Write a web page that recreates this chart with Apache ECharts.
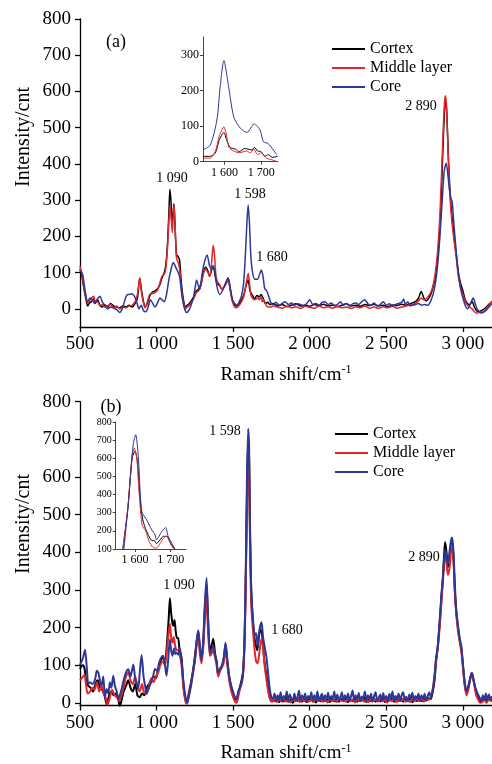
<!DOCTYPE html>
<html lang="en">
<head>
    <meta charset="UTF-8">
    <title>Raman spectra</title>
    <style>
        html, body { margin: 0; padding: 0; background: #fff; }
    </style>
    <script src="https://cdn.jsdelivr.net/npm/echarts@6/dist/echarts.min.js"></script>
</head>
<body>
<div id="main" style="width:492px;height:764px"></div>
<script>
    var names = ['Cortex', 'Middle layer', 'Core'];
    var colors = ['#000000', '#e3262b', '#2c3896'];
    var yTicks = [0, 100, 200, 300, 400, 500, 600, 700, 800];
    var insetTicksX = [1600, 1700];
    var insetTicksYa = [0, 100, 200, 300];
    var insetTicksYb = [100, 200, 300, 400, 500, 600, 700, 800];

    // (a) [Raman shift, intensity]
    var cortexA = [[500,110],[510,95],[520,70],[535,35],[550,8],[560,15],[575,20],[590,28],[600,15],[615,25],[630,10],[645,5],[660,12],[680,5],[700,15],[720,8],[740,5],[760,3],[780,8],[800,5],[820,10],[840,5],[860,15],[875,30],[890,85],[900,55],[910,30],[925,5],[940,15],[955,35],[970,45],[990,50],[1005,55],[1020,65],[1035,85],[1050,100],[1060,120],[1070,170],[1080,260],[1087,330],[1095,290],[1100,230],[1107,260],[1113,290],[1120,230],[1130,150],[1140,145],[1150,135],[1160,80],[1170,40],[1180,15],[1190,5],[1200,10],[1215,15],[1230,25],[1245,35],[1260,50],[1275,55],[1290,70],[1305,100],[1320,115],[1335,105],[1345,90],[1355,100],[1365,115],[1375,110],[1385,85],[1395,70],[1410,65],[1425,55],[1440,60],[1455,75],[1467,85],[1480,60],[1495,25],[1510,10],[1525,8],[1540,15],[1555,25],[1570,40],[1585,65],[1598,80],[1610,50],[1625,38],[1640,28],[1655,37],[1670,33],[1682,40],[1695,30],[1710,15],[1725,18],[1740,12],[1760,15],[1790,8],[1820,12],[1850,6],[1880,10],[1910,14],[1940,8],[1970,11],[2000,7],[2030,12],[2060,9],[2090,13],[2120,8],[2150,11],[2180,6],[2210,10],[2240,14],[2270,8],[2300,10],[2330,7],[2360,12],[2390,9],[2420,13],[2450,8],[2480,10],[2510,6],[2540,11],[2570,9],[2600,13],[2630,10],[2660,15],[2690,20],[2710,30],[2728,48],[2745,30],[2760,22],[2775,28],[2790,40],[2805,60],[2820,90],[2835,140],[2850,230],[2862,350],[2872,470],[2882,560],[2888,575],[2895,540],[2905,420],[2915,330],[2925,270],[2935,230],[2945,190],[2957,150],[2970,100],[2985,70],[3000,50],[3015,25],[3030,15],[3045,12],[3060,20],[3075,5],[3090,-5],[3105,-8],[3120,-5],[3140,0],[3160,8],[3175,15],[3190,20]];
    var middleA = [[500,118],[510,100],[520,75],[535,40],[550,15],[560,20],[575,30],[590,35],[600,20],[615,20],[630,8],[645,12],[660,5],[680,8],[700,12],[720,3],[740,8],[760,0],[780,5],[800,3],[820,8],[840,10],[860,20],[875,40],[890,85],[900,50],[910,25],[925,3],[940,20],[955,40],[970,42],[990,45],[1005,50],[1020,70],[1035,90],[1050,95],[1060,110],[1070,160],[1080,240],[1088,285],[1097,240],[1103,210],[1110,270],[1115,285],[1122,220],[1130,140],[1140,130],[1150,110],[1160,65],[1170,30],[1180,10],[1190,0],[1200,5],[1215,10],[1230,20],[1245,30],[1260,45],[1275,50],[1290,65],[1305,95],[1320,110],[1335,100],[1348,90],[1358,120],[1365,160],[1370,175],[1378,150],[1388,90],[1398,75],[1410,68],[1425,55],[1440,60],[1455,70],[1467,80],[1480,55],[1495,20],[1510,5],[1522,3],[1540,10],[1555,20],[1570,35],[1585,70],[1598,98],[1607,70],[1615,40],[1625,30],[1640,25],[1660,30],[1670,25],[1680,35],[1690,20],[1700,25],[1715,10],[1730,5],[1745,5],[1760,8],[1790,5],[1820,2],[1850,8],[1880,3],[1910,6],[1940,1],[1970,7],[2000,4],[2030,2],[2060,8],[2090,3],[2120,6],[2150,2],[2180,7],[2210,3],[2240,5],[2270,1],[2300,6],[2330,3],[2360,8],[2390,2],[2420,5],[2450,1],[2480,6],[2510,3],[2540,7],[2570,2],[2600,5],[2630,8],[2660,12],[2690,15],[2710,22],[2728,30],[2745,25],[2760,28],[2775,35],[2790,45],[2805,65],[2820,100],[2835,160],[2850,260],[2862,390],[2872,500],[2880,570],[2886,588],[2893,560],[2902,450],[2912,340],[2922,270],[2932,225],[2945,180],[2957,140],[2970,90],[2985,60],[3000,40],[3015,20],[3030,10],[3045,5],[3060,0],[3075,-8],[3090,-12],[3105,-10],[3120,-12],[3140,-5],[3160,5],[3175,12],[3190,22]];
    var coreA = [[500,105],[510,102],[520,90],[535,45],[550,20],[565,30],[580,25],[595,15],[610,25],[630,35],[645,20],[660,10],[680,0],[700,5],[720,2],[740,-2],[760,-10],[775,0],[790,20],[805,38],[820,40],[840,42],[855,35],[870,20],[885,0],[900,10],[915,-5],[930,-8],[945,5],[960,25],[975,15],[990,5],[1005,15],[1022,30],[1035,25],[1050,20],[1065,40],[1080,80],[1095,110],[1109,128],[1120,120],[1130,110],[1142,100],[1152,85],[1163,45],[1174,15],[1185,-3],[1197,-10],[1210,-5],[1225,10],[1240,30],[1252,60],[1261,80],[1272,65],[1283,55],[1295,90],[1310,125],[1330,149],[1345,120],[1358,110],[1370,120],[1382,100],[1395,60],[1413,40],[1430,50],[1450,70],[1467,85],[1480,55],[1495,25],[1510,15],[1525,10],[1540,20],[1554,35],[1568,70],[1580,150],[1590,240],[1598,287],[1606,240],[1615,150],[1625,105],[1641,82],[1660,82],[1672,95],[1684,107],[1695,90],[1706,56],[1719,50],[1732,35],[1745,18],[1760,12],[1780,18],[1800,10],[1820,15],[1840,20],[1860,12],[1880,16],[1900,10],[1920,14],[1940,12],[1960,8],[1980,15],[2000,25],[2020,12],[2040,15],[2060,10],[2080,18],[2100,20],[2120,12],[2140,16],[2160,10],[2180,12],[2200,20],[2220,10],[2240,15],[2260,8],[2280,14],[2300,16],[2320,12],[2340,20],[2360,25],[2380,14],[2400,10],[2420,16],[2440,8],[2460,12],[2480,20],[2500,10],[2520,14],[2540,8],[2560,12],[2580,15],[2600,18],[2613,27],[2625,12],[2640,20],[2655,8],[2670,10],[2690,12],[2710,15],[2730,10],[2750,12],[2770,10],[2790,22],[2805,40],[2820,70],[2835,120],[2850,200],[2865,300],[2878,380],[2891,402],[2902,370],[2912,330],[2922,305],[2930,296],[2940,240],[2950,190],[2960,140],[2972,95],[2985,55],[3000,30],[3015,10],[3030,0],[3045,10],[3060,25],[3068,30],[3080,15],[3095,-2],[3110,-8],[3130,-10],[3150,-5],[3170,5],[3190,15]];

    // inset (a)
    var cortexAi = [[1541,15],[1560,15],[1575,25],[1585,60],[1598,82],[1606,60],[1615,40],[1630,35],[1640,28],[1655,37],[1665,35],[1675,33],[1682,40],[1690,30],[1700,28],[1710,15],[1720,20],[1730,12],[1745,15]];
    var middleAi = [[1541,10],[1560,10],[1575,30],[1585,70],[1598,98],[1605,75],[1612,40],[1625,30],[1640,25],[1660,30],[1670,25],[1680,35],[1690,20],[1700,25],[1715,10],[1730,5],[1745,0]];
    var coreAi = [[1541,33],[1561,47],[1579,117],[1588,211],[1598,284],[1611,211],[1625,126],[1643,94],[1661,82],[1681,106],[1697,89],[1706,56],[1719,51],[1743,19]];

    // (b)
    var cortexB = [[500,90],[510,98],[520,100],[530,90],[540,60],[555,45],[570,40],[585,30],[600,50],[615,60],[630,40],[645,35],[660,20],[675,-5],[690,20],[705,30],[720,20],[735,25],[750,10],[760,-10],[770,5],[785,30],[800,45],[815,60],[830,40],[845,30],[860,50],[875,20],[890,15],[905,25],[920,20],[935,40],[950,50],[965,60],[980,70],[995,65],[1010,90],[1025,110],[1040,120],[1055,110],[1070,170],[1080,230],[1087,278],[1095,240],[1104,210],[1110,205],[1117,220],[1125,190],[1133,172],[1141,172],[1150,140],[1163,120],[1175,50],[1188,10],[1198,0],[1210,25],[1225,55],[1239,88],[1255,140],[1272,190],[1283,140],[1293,114],[1305,160],[1315,250],[1326,315],[1335,230],[1348,140],[1358,150],[1370,170],[1382,130],[1392,110],[1402,75],[1415,90],[1428,100],[1440,120],[1450,155],[1462,110],[1474,70],[1488,40],[1500,25],[1512,10],[1522,8],[1533,25],[1543,40],[1555,60],[1565,85],[1575,180],[1583,350],[1590,550],[1598,700],[1604,650],[1610,450],[1618,300],[1628,220],[1640,170],[1650,150],[1658,140],[1668,175],[1678,195],[1688,185],[1697,140],[1707,100],[1718,70],[1730,35],[1742,10],[1755,5],[1770,5],[1785,12],[1800,2],[1815,10],[1830,4],[1845,15],[1860,3],[1875,8],[1890,0],[1905,12],[1920,5],[1935,14],[1950,3],[1965,9],[1980,2],[1995,13],[2010,6],[2025,10],[2040,1],[2055,12],[2070,4],[2085,15],[2100,5],[2115,9],[2130,2],[2145,11],[2160,4],[2175,14],[2190,3],[2205,10],[2220,6],[2235,13],[2250,2],[2265,9],[2280,5],[2295,12],[2310,3],[2325,10],[2340,6],[2355,14],[2370,2],[2385,9],[2400,5],[2415,12],[2430,3],[2445,10],[2460,4],[2475,13],[2490,2],[2505,9],[2520,6],[2535,12],[2550,3],[2565,10],[2580,5],[2595,14],[2610,3],[2625,9],[2640,6],[2655,12],[2670,2],[2685,10],[2700,5],[2715,12],[2730,4],[2745,10],[2760,6],[2775,12],[2790,10],[2803,30],[2815,60],[2825,110],[2836,150],[2850,220],[2860,280],[2869,330],[2877,390],[2884,427],[2893,400],[2902,360],[2912,385],[2922,415],[2930,425],[2938,390],[2947,300],[2957,240],[2968,200],[2980,165],[2990,145],[3000,100],[3012,50],[3024,26],[3035,40],[3045,60],[3055,75],[3063,70],[3075,50],[3087,25],[3100,15],[3112,5],[3125,3],[3140,12],[3155,5],[3170,15],[3185,8],[3190,10]];
    var middleB = [[500,60],[510,65],[520,70],[530,75],[540,45],[550,25],[565,30],[580,40],[595,35],[610,55],[625,30],[640,45],[655,25],[670,10],[680,-5],[695,15],[710,35],[725,20],[740,15],[755,5],[770,20],[785,40],[800,70],[815,80],[830,60],[845,50],[860,70],[875,45],[890,30],[905,50],[920,25],[935,30],[950,45],[965,65],[980,55],[995,70],[1010,80],[1025,100],[1040,110],[1055,100],[1070,150],[1080,190],[1087,210],[1095,175],[1104,160],[1112,175],[1120,155],[1130,140],[1141,140],[1150,130],[1163,100],[1175,40],[1188,5],[1198,-3],[1210,20],[1225,50],[1239,80],[1255,130],[1272,180],[1283,130],[1293,105],[1305,150],[1315,220],[1326,280],[1335,200],[1348,125],[1358,130],[1370,140],[1382,120],[1392,100],[1402,70],[1415,85],[1428,95],[1440,110],[1450,145],[1462,100],[1474,60],[1488,30],[1500,15],[1512,3],[1522,0],[1533,15],[1543,35],[1555,50],[1565,75],[1575,160],[1583,330],[1590,520],[1598,655],[1604,610],[1610,430],[1618,260],[1628,200],[1640,140],[1650,110],[1660,105],[1670,130],[1680,160],[1688,170],[1697,140],[1707,95],[1718,60],[1730,28],[1742,8],[1755,3],[1770,8],[1785,2],[1800,10],[1815,4],[1830,12],[1845,3],[1860,9],[1875,1],[1890,10],[1905,4],[1920,12],[1935,2],[1950,8],[1965,5],[1980,11],[1995,3],[2010,9],[2025,2],[2040,12],[2055,5],[2070,10],[2085,3],[2100,8],[2115,1],[2130,11],[2145,4],[2160,9],[2175,2],[2190,12],[2205,5],[2220,8],[2235,3],[2250,11],[2265,4],[2280,9],[2295,1],[2310,10],[2325,5],[2340,12],[2355,3],[2370,8],[2385,2],[2400,11],[2415,5],[2430,9],[2445,3],[2460,12],[2475,4],[2490,8],[2505,1],[2520,10],[2535,4],[2550,12],[2565,2],[2580,9],[2595,5],[2610,11],[2625,3],[2640,8],[2655,2],[2670,10],[2685,4],[2700,12],[2715,5],[2730,9],[2745,3],[2760,10],[2775,8],[2790,15],[2803,35],[2815,70],[2825,115],[2836,145],[2850,210],[2860,270],[2869,320],[2877,370],[2885,390],[2893,370],[2902,340],[2912,355],[2922,400],[2930,420],[2938,385],[2947,300],[2957,235],[2968,190],[2980,160],[2990,135],[3000,95],[3012,45],[3024,20],[3035,35],[3045,55],[3055,80],[3063,75],[3075,45],[3087,20],[3100,8],[3112,0],[3125,2],[3140,8],[3155,0],[3170,10],[3185,5],[3190,8]];
    var coreB = [[500,100],[510,110],[520,120],[533,141],[545,90],[554,50],[565,55],[580,50],[598,62],[610,85],[620,80],[630,60],[641,45],[652,70],[663,15],[674,37],[685,25],[695,55],[705,40],[717,72],[728,45],[740,30],[750,10],[760,20],[772,37],[785,60],[800,80],[815,89],[830,70],[848,102],[860,65],[870,50],[880,37],[890,80],[902,127],[915,70],[925,45],[935,24],[950,40],[965,55],[978,72],[990,90],[1005,85],[1017,107],[1030,120],[1043,125],[1055,100],[1065,72],[1075,110],[1087,168],[1095,140],[1104,125],[1115,145],[1122,130],[1130,133],[1141,128],[1152,146],[1163,110],[1174,62],[1187,20],[1200,0],[1215,25],[1225,45],[1239,88],[1250,110],[1260,160],[1272,193],[1283,150],[1293,114],[1305,170],[1315,260],[1326,332],[1335,240],[1348,131],[1358,140],[1370,150],[1382,125],[1392,110],[1402,80],[1415,90],[1428,100],[1440,125],[1450,160],[1462,115],[1474,70],[1488,45],[1500,28],[1512,15],[1522,10],[1533,30],[1543,40],[1555,55],[1565,80],[1575,180],[1583,370],[1590,590],[1598,728],[1604,680],[1610,480],[1618,300],[1630,219],[1641,180],[1650,185],[1660,150],[1670,190],[1685,214],[1695,175],[1705,150],[1717,122],[1728,80],[1739,36],[1750,15],[1760,10],[1770,25],[1780,5],[1790,20],[1800,8],[1810,28],[1820,3],[1830,18],[1840,10],[1850,30],[1860,5],[1870,22],[1880,12],[1890,6],[1900,25],[1910,8],[1920,15],[1930,32],[1940,5],[1950,20],[1960,10],[1970,25],[1980,4],[1990,18],[2000,12],[2010,28],[2020,5],[2030,20],[2040,8],[2050,30],[2060,6],[2070,16],[2080,24],[2090,4],[2100,20],[2110,10],[2120,27],[2130,5],[2140,18],[2150,12],[2160,30],[2170,6],[2180,22],[2190,8],[2200,15],[2210,28],[2220,4],[2230,20],[2240,10],[2250,25],[2260,6],[2270,18],[2280,33],[2290,5],[2300,20],[2310,9],[2320,26],[2330,4],[2340,17],[2350,12],[2360,30],[2370,6],[2380,20],[2390,10],[2400,24],[2410,3],[2420,18],[2430,28],[2440,6],[2450,14],[2460,22],[2470,5],[2480,26],[2490,10],[2500,18],[2510,4],[2520,24],[2530,12],[2540,30],[2550,6],[2560,18],[2570,10],[2580,25],[2590,5],[2600,20],[2610,28],[2620,8],[2630,16],[2640,4],[2650,22],[2660,10],[2670,27],[2680,6],[2690,18],[2700,12],[2710,25],[2720,5],[2730,20],[2740,10],[2750,24],[2760,6],[2770,18],[2780,28],[2790,15],[2803,35],[2815,75],[2825,120],[2836,149],[2850,230],[2860,290],[2869,330],[2877,380],[2885,407],[2893,385],[2902,370],[2912,400],[2922,430],[2930,439],[2938,405],[2947,320],[2957,245],[2968,205],[2980,170],[2990,149],[3000,105],[3012,55],[3024,30],[3035,45],[3045,60],[3055,75],[3060,79],[3070,60],[3082,40],[3095,26],[3108,15],[3120,5],[3130,20],[3140,8],[3150,25],[3160,10],[3170,22],[3180,6],[3190,18]];

    // inset (b)
    var cortexBi = [[1566,100],[1580,320],[1592,600],[1600,640],[1607,580],[1614,380],[1622,260],[1632,200],[1645,150],[1655,145],[1660,130],[1670,150],[1680,170],[1690,170],[1700,130],[1712,100]];
    var middleBi = [[1566,100],[1580,330],[1592,620],[1598,655],[1605,600],[1612,400],[1620,230],[1630,200],[1640,140],[1650,110],[1660,105],[1670,130],[1680,160],[1688,170],[1695,150],[1705,110],[1710,100]];
    var coreBi = [[1569,100],[1581,343],[1595,675],[1602,730],[1609,619],[1619,306],[1633,260],[1647,205],[1656,180],[1660,150],[1675,196],[1686,218],[1693,170],[1712,100]];

    var serif = 'Liberation Serif';

    function thousands(v) {
        if (v < 1000) return String(v);
        return Math.floor(v / 1000) + ' ' + String(v % 1000).padStart(3, '0');
    }

    function mainX(gi) {
        return {
            type: 'value', gridIndex: gi, min: 500, max: 3190, interval: 500,
            axisLine: { onZero: false, lineStyle: { color: '#000', width: 1.3 } },
            axisTick: { length: 5, lineStyle: { color: '#000', width: 1.3 } },
            axisLabel: { color: '#000', fontFamily: serif, fontSize: 19, margin: 8, formatter: thousands },
            splitLine: { show: false },
            name: 'Raman shift/cm{sup|-1}', nameLocation: 'middle', nameGap: 37,
            nameTextStyle: { color: '#000', fontFamily: serif, fontSize: 19,
                rich: { sup: { fontFamily: serif, fontSize: 12, verticalAlign: 'top', padding: [0, 0, 10, 0] } } }
        };
    }
    function mainY(gi, min) {
        return {
            type: 'value', gridIndex: gi, min: min, max: 800,
            axisLine: { show: true, onZero: false, lineStyle: { color: '#000', width: 1.3 } },
            axisTick: { show: true, length: 5, customValues: yTicks, lineStyle: { color: '#000', width: 1.3 } },
            axisLabel: { color: '#000', fontFamily: serif, fontSize: 19, margin: 9, customValues: yTicks },
            splitLine: { show: false }
        };
    }
    function insetX(gi, min, max, fs) {
        return {
            type: 'value', gridIndex: gi, min: min, max: max,
            axisLine: { onZero: false, lineStyle: { color: '#444', width: 1 } },
            axisTick: { length: 3, customValues: insetTicksX, lineStyle: { color: '#444' } },
            axisLabel: { color: '#000', fontFamily: serif, fontSize: fs, margin: 5, customValues: insetTicksX, formatter: thousands },
            splitLine: { show: false }
        };
    }
    function insetY(gi, min, max, ticks, fs) {
        return {
            type: 'value', gridIndex: gi, min: min, max: max,
            axisLine: { show: true, onZero: false, lineStyle: { color: '#444', width: 1 } },
            axisTick: { show: true, length: 3, customValues: ticks, lineStyle: { color: '#444' } },
            axisLabel: { color: '#000', fontFamily: serif, fontSize: fs, margin: 4, customValues: ticks },
            splitLine: { show: false }
        };
    }

    var sets = [[cortexA, middleA, coreA], [cortexAi, middleAi, coreAi], [cortexB, middleB, coreB], [cortexBi, middleBi, coreBi]];
    var widths = [1.5, 1, 2, 1];
    var series = [];
    sets.forEach(function (set, gi) {
        set.forEach(function (d, k) {
            series.push({
                name: names[k], type: 'line', xAxisIndex: gi, yAxisIndex: gi,
                data: d, symbol: 'none', smooth: 0.25, animation: false,
                lineStyle: { color: colors[k], width: widths[gi] },
                itemStyle: { color: colors[k] }
            });
        });
    });

    function txt(x, y, s, fs, rot) {
        return {
            type: 'text', x: x, y: y, rotation: rot || 0, silent: true,
            style: { text: s, fill: '#000', font: fs + 'px "' + serif + '"', textAlign: 'center', textVerticalAlign: 'middle' }
        };
    }

    function legendAt(left, top) {
        return {
            left: left, top: top, orient: 'vertical', icon: 'rect', itemWidth: 33, itemHeight: 2, itemGap: 3,
            data: names, selectedMode: false,
            textStyle: { fontFamily: serif, fontSize: 16, color: '#000' }
        };
    }

    var myChart = echarts.init(document.getElementById('main'));
    var option = {
        backgroundColor: '#fff',
        animation: false,
        grid: [
            { left: 80, top: 19, width: 412.5, height: 308 },
            { left: 203, top: 37, width: 75, height: 124.7 },
            { left: 80, top: 401.7, width: 412.5, height: 307.6 },
            { left: 115.7, top: 422, width: 70.3, height: 127 }
        ],
        xAxis: [mainX(0), insetX(1, 1541, 1746, 12), mainX(2), insetX(3, 1546, 1743, 12)],
        yAxis: [mainY(0, -50), insetY(1, 0, 350, insetTicksYa, 12), mainY(2, -7), insetY(3, 100, 800, insetTicksYb, 10)],
        legend: [legendAt(327, 36), legendAt(330, 421)],
        series: series,
        graphic: [
            txt(24, 137, 'Intensity/cnt', 20, Math.PI / 2),
            txt(24, 524, 'Intensity/cnt', 20, Math.PI / 2),
            txt(116, 42, '(a)', 18),
            txt(111, 407, '(b)', 18),
            txt(172, 178, '1 090', 14),
            txt(250, 194, '1 598', 14),
            txt(272, 257, '1 680', 14),
            txt(421, 106, '2 890', 14),
            txt(179, 585, '1 090', 14),
            txt(225, 431, '1 598', 14),
            txt(287, 630, '1 680', 14),
            txt(424, 557, '2 890', 14)
        ]
    };
    myChart.setOption(option);
</script>
</body>
</html>
